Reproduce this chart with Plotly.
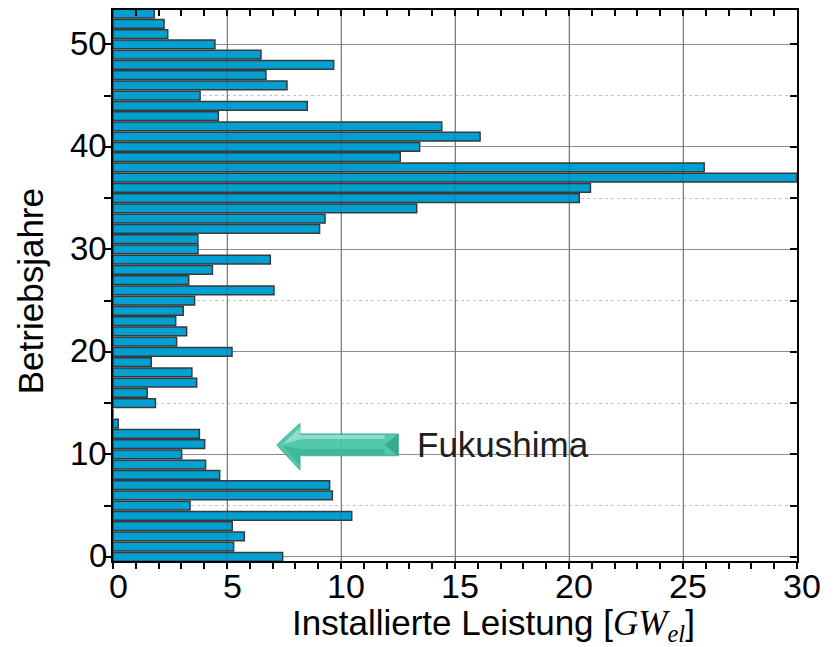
import plotly.graph_objects as go

# Operating age of reactors (years) and installed capacity per age (GW_el)
betriebsjahre = list(range(0, 54))
leistung_gw = [
    7.44, 5.29, 5.76, 5.23, 10.47, 3.38, 9.62, 9.50, 4.68, 4.06,
    3.01, 4.02, 3.79, 0.23, 0.0, 1.86, 1.50, 3.67, 3.46, 1.68,
    5.22, 2.79, 3.23, 2.75, 3.08, 3.58, 7.06, 3.32, 4.36, 6.90,
    3.73, 3.72, 9.06, 9.30, 13.32, 20.45, 20.94, 30.00, 25.93, 12.60,
    13.45, 16.10, 14.42, 4.62, 8.52, 3.82, 7.63, 6.71, 9.68, 6.49,
    4.47, 2.40, 2.24, 1.81,
]

x_ticks = [0, 5, 10, 15, 20, 25, 30]
y_ticks = [0, 10, 20, 30, 40, 50]

X_RANGE = [0, 30]
Y_RANGE = [-0.4, 53.35]

FONT = "Liberation Sans, Arial, sans-serif"
GRID = "#8c8c98"

fig = go.Figure()

fig.add_trace(go.Bar(
    x=leistung_gw,
    y=betriebsjahre,
    orientation="h",
    width=0.86,
    marker=dict(color="#00a0d2", line=dict(color="#3a3a3a", width=1.5)),
    showlegend=False,
    hoverinfo="x+y",
))

# empty helper trace so the mirrored top/right axes (inward ticks) are drawn
fig.add_trace(go.Scatter(x=[None], y=[None], xaxis="x2", yaxis="y2",
                         showlegend=False, hoverinfo="skip"))

fig.update_layout(
    width=838,
    height=647,
    margin=dict(l=113, r=41, t=10, b=86),
    paper_bgcolor="white",
    plot_bgcolor="white",
    xaxis=dict(
        range=X_RANGE,
        tickvals=x_ticks,
        showticklabels=False,
        ticks="outside",
        ticklen=6,
        tickwidth=1.5,
        tickcolor="black",
        minor=dict(dtick=1, ticks="outside", ticklen=6, tickwidth=1.5, tickcolor="black", showgrid=False),
        showline=True,
        linecolor="black",
        linewidth=2,
        showgrid=True,
        gridcolor=GRID,
        gridwidth=1.2,
        zeroline=False,
        layer="above traces",
    ),
    yaxis=dict(
        range=Y_RANGE,
        tickvals=y_ticks,
        showticklabels=False,
        ticks="outside",
        ticklen=7,
        tickwidth=1.5,
        tickcolor="black",
        minor=dict(dtick=5, ticks="outside", ticklen=7, tickwidth=1.5, tickcolor="black",
                   showgrid=True, gridcolor="#c4c4c4", griddash="dot", gridwidth=1),
        showline=True,
        linecolor="black",
        linewidth=2,
        showgrid=True,
        gridcolor=GRID,
        gridwidth=1.2,
        zeroline=False,
    ),
    xaxis2=dict(
        overlaying="x", side="top", anchor="y", range=X_RANGE,
        dtick=1, ticks="inside", ticklen=6, tickwidth=1.5, tickcolor="black",
        showticklabels=False, showgrid=False, zeroline=False,
        showline=True, linecolor="black", linewidth=2,
    ),
    yaxis2=dict(
        overlaying="y", side="right", anchor="x", range=Y_RANGE,
        dtick=5, ticks="inside", ticklen=7, tickwidth=1.5, tickcolor="black",
        showticklabels=False, showgrid=False, zeroline=False,
        showline=True, linecolor="black", linewidth=2,
    ),
)

# tick labels, set close to the axes
for v in x_ticks:
    fig.add_annotation(x=v, y=0, xref="x", yref="paper", text=str(v), showarrow=False,
                       xanchor="center", yanchor="middle", xshift=5, yshift=-25,
                       font=dict(family=FONT, size=34, color="black"))
for v in y_ticks:
    fig.add_annotation(x=0, y=v, xref="paper", yref="y", text=str(v), showarrow=False,
                       xanchor="right", yanchor="middle", xshift=-4, yshift=1,
                       font=dict(family=FONT, size=33, color="black"))

# vertical grid lines faintly visible across the bars
for v in x_ticks[1:-1]:
    fig.add_shape(type="line", xref="x", yref="paper", x0=v, x1=v, y0=0, y1=1,
                  line=dict(color="rgba(70,70,90,0.35)", width=1.2), layer="above")

# teal arrow pointing at the Fukushima age
arrow = dict(tip_x=7.18, tip_y=10.92, head_x=8.2, head_top=13.03, head_bot=8.48,
             shaft_top=11.99, shaft_bot=9.87, end_x=12.51)
a = arrow
outline = (f"M {a['tip_x']},{a['tip_y']} L {a['head_x']},{a['head_top']} "
           f"L {a['head_x']},{a['shaft_top']} L {a['end_x']},{a['shaft_top']} "
           f"L {a['end_x']},{a['shaft_bot']} L {a['head_x']},{a['shaft_bot']} "
           f"L {a['head_x']},{a['head_bot']} Z")
fig.add_shape(type="path", path=outline, xref="x", yref="y",
              fillcolor="#45c4a3", line=dict(color="#34a88a", width=1), opacity=0.92, layer="above")
mid = (a["shaft_top"] + a["shaft_bot"]) / 2
hl_y = a["shaft_top"] - 0.5
upper = (f"M {a['tip_x'] + 0.25},{a['tip_y'] + 0.05} L {a['head_x']},{a['head_top'] - 0.4} "
         f"L {a['head_x']},{a['shaft_top'] - 0.1} L {a['end_x'] - 0.6},{a['shaft_top'] - 0.1} "
         f"L {a['end_x'] - 0.6},{hl_y} L {a['head_x'] + 0.1},{hl_y} Z")
fig.add_shape(type="path", path=upper, xref="x", yref="y",
              fillcolor="#a3e5d3", line=dict(width=0), opacity=0.75, layer="above")
lower = (f"M {a['tip_x'] + 0.25},{a['tip_y'] - 0.05} L {a['head_x']},{a['head_bot'] + 0.4} "
         f"L {a['head_x']},{a['shaft_bot'] + 0.1} L {a['end_x'] - 0.6},{a['shaft_bot'] + 0.1} "
         f"L {a['end_x'] - 0.6},{mid - 0.4} L {a['head_x'] + 0.1},{mid - 0.4} Z")
fig.add_shape(type="path", path=lower, xref="x", yref="y",
              fillcolor="#2aa686", line=dict(width=0), opacity=0.45, layer="above")
# bevelled square end of the shaft
bevel = (f"M {a['end_x'] - 0.6},{mid} L {a['end_x']},{a['shaft_top']} "
         f"L {a['end_x']},{a['shaft_bot']} Z")
fig.add_shape(type="path", path=bevel, xref="x", yref="y",
              fillcolor="#2a9e80", line=dict(width=0), opacity=0.7, layer="above")

fig.add_annotation(x=13.25, y=10.92, xref="x", yref="y", text="Fukushima",
                   showarrow=False, xanchor="left", yanchor="middle",
                   font=dict(family=FONT, size=35, color="#202020"))

fig.add_annotation(
    x=0.557, y=-0.117, xref="paper", yref="paper",
    text=('Installierte Leistung ['
          '<span style="font-family:Liberation Serif, DejaVu Serif, serif"><i>GW</i>'
          '<sub><i>el</i></sub></span>]'),
    showarrow=False, xanchor="center", yanchor="middle",
    font=dict(family=FONT, size=35, color="black"),
)

fig.add_annotation(
    x=-0.121, y=0.49, xref="paper", yref="paper", text="Betriebsjahre",
    textangle=-90, showarrow=False, xanchor="center", yanchor="middle",
    font=dict(family=FONT, size=35, color="black"),
)

fig.write_html("out.html")
